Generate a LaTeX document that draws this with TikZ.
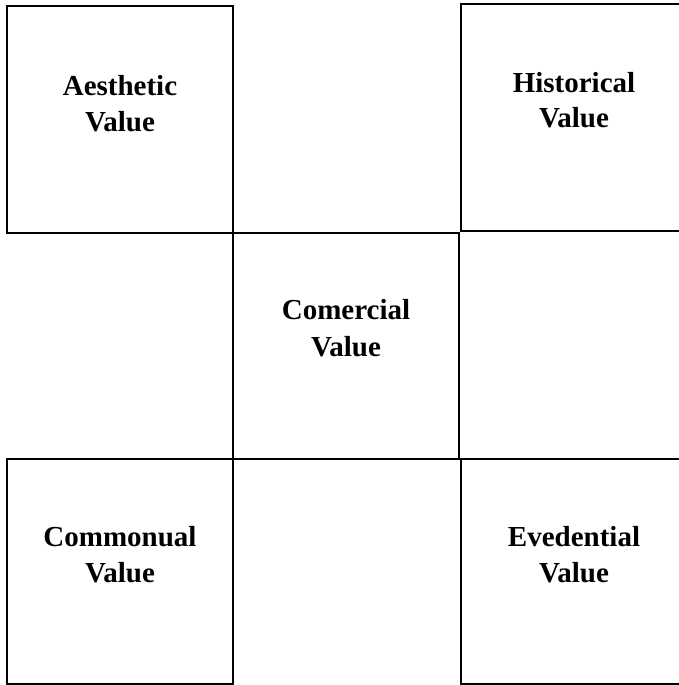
\documentclass[tikz,border=0pt]{standalone}
\usepackage{fontspec}
\setmainfont{Liberation Serif}
\begin{document}
\begin{tikzpicture}[x=1pt,y=1pt,
  cell/.style={draw=black, line width=1.8pt, rectangle, inner sep=0pt, minimum width=226pt},
  lbl/.style={font=\bfseries\fontsize{29}{35}\selectfont, inner sep=0pt, anchor=base, text=black}]
\useasboundingbox (0,0) rectangle (679,685);
\clip (0,0) rectangle (679,685);
% boxes
\node[cell, minimum height=227pt] (aes) at (120,565.5) {};
\node[cell, minimum height=227pt] (his) at (574,567.5) {};
\node[cell, minimum height=226pt] (com) at (346,339) {};
\node[cell, minimum height=225pt] (cmn) at (120,113.5) {};
\node[cell, minimum height=225pt] (evd) at (574,113.5) {};
% labels
\node[lbl] (aes1) at ([yshift=-90pt]aes.north) {Aesthetic};
\node[lbl] (aes2) at ([yshift=-126pt]aes.north) {Value};
\node[lbl] (his1) at ([yshift=-89pt]his.north) {Historical};
\node[lbl] (his2) at ([yshift=-124pt]his.north) {Value};
\node[lbl] (com1) at ([yshift=-87pt]com.north) {Comercial};
\node[lbl] (com2) at ([yshift=-124pt]com.north) {Value};
\node[lbl] (cmn1) at ([yshift=-88pt]cmn.north) {Commonual};
\node[lbl] (cmn2) at ([yshift=-124pt]cmn.north) {Value};
\node[lbl] (evd1) at ([yshift=-88pt]evd.north) {Evedential};
\node[lbl] (evd2) at ([yshift=-124pt]evd.north) {Value};
\end{tikzpicture}
\end{document}
